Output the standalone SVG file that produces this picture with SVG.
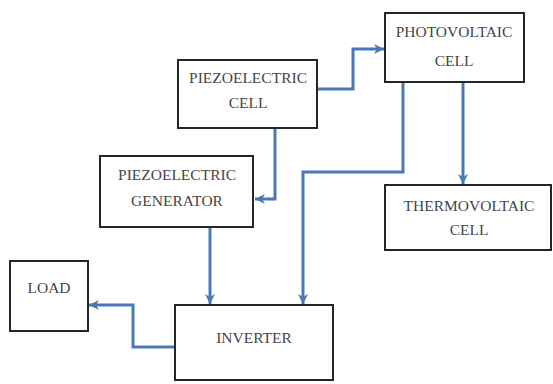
<svg xmlns="http://www.w3.org/2000/svg" width="553" height="384" viewBox="0 0 553 384">
<defs>
<style>
.box{fill:#fff;stroke:#262626;stroke-width:2}
.c{fill:none;stroke:#4a78b5;stroke-width:3;stroke-linejoin:miter}
</style>
<marker id="ah" markerUnits="userSpaceOnUse" markerWidth="12" markerHeight="12" viewBox="0 0 12 12" refX="11" refY="6" orient="auto">
<path d="M1,1 L11,6 L1,11 L4,6 Z" fill="#4a78b5"/>
</marker>
</defs>
<rect width="553" height="384" fill="#fff"/>
<g id="connectors">
<path class="c" d="M317,89 H353 V49 H384" marker-end="url(#ah)"/>
<path class="c" d="M275,128 V199 H255" marker-end="url(#ah)"/>
<path class="c" d="M463,82 V184" marker-end="url(#ah)"/>
<path class="c" d="M403,82 V172 H303 V304" marker-end="url(#ah)"/>
<path class="c" d="M210,227 V304" marker-end="url(#ah)"/>
<path class="c" d="M175,347 H133 V305 H89" marker-end="url(#ah)"/>
</g>
<g font-family="Liberation Serif" font-size="15.5" fill="#454545" text-anchor="middle">
<g id="piezo-cell">
<rect class="box" x="178" y="60" width="139" height="68"/>
<text x="248" y="83">PIEZOELECTRIC</text>
<text x="248" y="108">CELL</text>
</g>
<g id="photovoltaic">
<rect class="box" x="385" y="13" width="139" height="69"/>
<text x="454" y="37">PHOTOVOLTAIC</text>
<text x="454" y="66">CELL</text>
</g>
<g id="piezo-generator">
<rect class="box" x="100" y="156" width="153" height="71"/>
<text x="177" y="180">PIEZOELECTRIC</text>
<text x="177" y="206">GENERATOR</text>
</g>
<g id="thermovoltaic">
<rect class="box" x="385" y="185" width="166" height="65"/>
<text x="469" y="211">THERMOVOLTAIC</text>
<text x="469" y="235">CELL</text>
</g>
<g id="load">
<rect class="box" x="10" y="261" width="78" height="70"/>
<text x="49" y="293">LOAD</text>
</g>
<g id="inverter">
<rect class="box" x="175" y="305" width="158" height="75"/>
<text x="254" y="343">INVERTER</text>
</g>
</g>
</svg>
